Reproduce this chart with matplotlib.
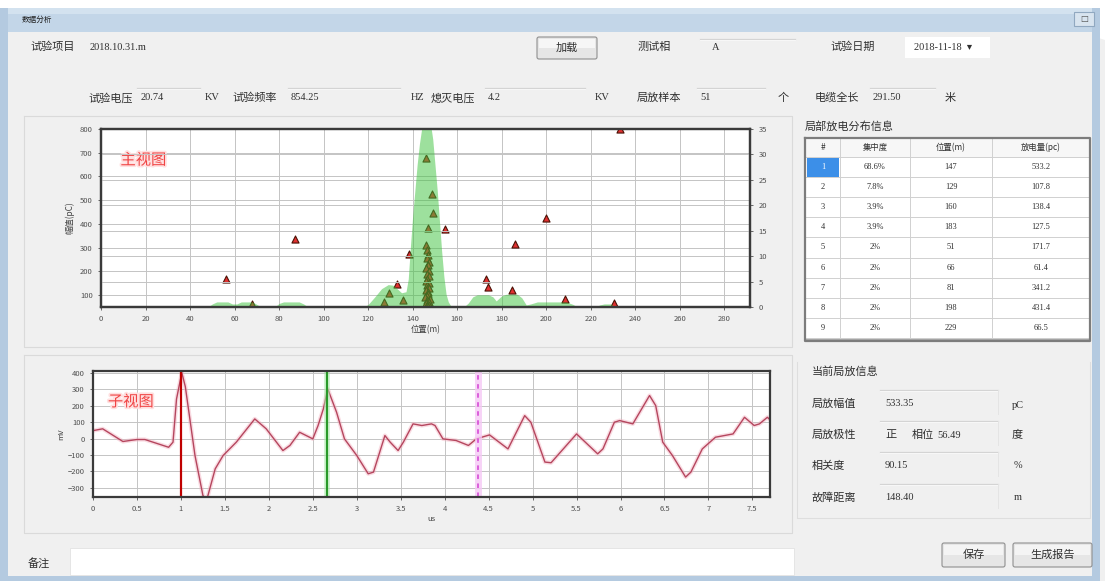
import matplotlib
matplotlib.use('Agg')
import matplotlib.pyplot as plt
from matplotlib.patches import Rectangle, FancyBboxPatch, Polygon
import matplotlib.patheffects as pe

plt.rcParams['font.family'] = ['Noto Sans CJK SC', 'DejaVu Sans']

# ---------------- data ----------------
# header fields
project_name = "2018.10.31.m"
test_phase = "A"
test_date = "2018-11-18"
test_voltage = "20.74"
test_freq = "854.25"
extinct_voltage = "4.2"
pd_samples = "51"
cable_length = 291.50

# discharge points: position (m) and amplitude (pC)
pd_pos = [56.1, 67.7, 87.1, 127.0, 129.3, 132.8, 135.8, 138.3, 154.5,
          145.8, 148.5, 148.9, 146.7,
          146.0, 146.5, 147.0, 146.2, 147.3, 146.8, 145.8, 147.5, 146.4, 147.1,
          146.6, 145.9, 147.2, 146.3, 146.9, 147.4, 146.1, 146.7, 147.0, 146.5,
          145.7, 147.6, 146.2, 146.8, 147.3, 146.0, 146.6, 147.1, 146.4, 147.8,
          146.9,
          172.9, 174.0, 184.4, 185.9, 199.7, 208.3, 230.5, 233.0]
pd_amp = [167, 62, 338, 72, 108, 146, 80, 273, 379,
          677, 528, 444, 383,
          310, 290, 270, 255, 240, 228, 215, 200, 190, 180,
          170, 160, 150, 142, 135, 128, 120, 112, 105, 98,
          92, 85, 80, 75, 70, 65, 60, 57, 55, 52,
          50,
          167, 133, 122, 316, 426, 83, 66, 800]

# discharge count distribution along the cable
dist_pos = [0, 48, 50, 52, 57, 59, 61, 63, 68, 70, 72, 78, 80, 82, 89, 91, 93,
            118, 120, 123, 126, 129, 131, 133, 135, 137, 138, 139, 140, 141,
            142, 143, 144, 145, 146, 147, 148, 149, 150, 151, 152, 153, 154,
            155, 156, 157, 159, 163, 165, 167, 169, 174, 176, 177.5, 178.5, 180,
            182, 187, 189, 191, 193, 196, 209, 212, 214, 222, 224, 226, 229,
            231, 291.5]
dist_cnt = [0, 0, 0.6, 1.0, 1.0, 0.6, 0.6, 1.0, 1.0, 0.5, 0, 0, 0.7, 1.0, 1.0,
            0.6, 0, 0, 0.5, 2.0, 3.6, 4.4, 4.3, 3.6, 2.8, 3.0, 5.5, 12, 18, 23,
            28, 32, 35, 37, 38, 37.5, 36, 33, 28, 23, 17, 11, 6, 2.5, 1.0,
            0.3, 0, 0, 0.8, 2.0, 2.4, 2.4, 2.0, 1.2, 1.6, 2.2, 2.5, 2.5, 1.8,
            0.4, 0.6, 1.0, 1.0, 0.5, 0, 0, 0.4, 0.6, 0.6, 0, 0]

main_xticks = list(range(0, 300, 20))
main_yticks = [100, 200, 300, 400, 500, 600, 700, 800]
count_ticks = [0, 5, 10, 15, 20, 25, 30, 35]

# waveform of the selected discharge (us, mV)
wave_t = [0.00, 0.11, 0.34, 0.50, 0.59, 0.86, 0.91, 0.95, 1.01, 1.05, 1.16,
          1.25, 1.29, 1.39, 1.48, 1.63, 1.84, 1.97, 2.16, 2.24, 2.35, 2.50,
          2.56, 2.62, 2.67, 2.77, 2.86, 3.00, 3.13, 3.19, 3.32, 3.38, 3.47,
          3.53, 3.64, 3.74, 3.85, 3.89, 3.98, 4.13, 4.27, 4.36, 4.51, 4.72,
          4.91, 4.98, 5.14, 5.21, 5.50, 5.74, 5.80, 5.93, 5.99, 6.14, 6.33,
          6.40, 6.48, 6.59, 6.74, 6.80, 6.93, 7.08, 7.28, 7.41, 7.52, 7.58,
          7.67, 7.71]
wave_v = [48, 59, -18, -6, -6, -53, -22, 240, 400, 315, -103,
          -345, -380, -184, -103, -22, 119, 59, -73, -42, 38, -2,
          79, 180, 301, 160, -2, -103, -214, -204, 18, -22, -73,
          -22, 89, 79, 89, 79, -2, -12, -42, -2, 22, -63,
          139, 99, -143, -147, 28, -93, -63, 99, 109, 89, 261,
          200, -22, -103, -234, -204, -63, 8, 28, 129, 79, 89,
          129, 109]
cursor_start = 1.0
cursor_peak = 2.66
cursor_mark = 4.38
sub_xticks = [0, 0.5, 1, 1.5, 2, 2.5, 3, 3.5, 4, 4.5, 5, 5.5, 6, 6.5, 7, 7.5]
sub_yticks = [-300, -200, -100, 0, 100, 200, 300, 400]

# distribution table
tbl_header = ["#", "集中度", "位置(m)", "放电量(pc)"]
tbl_idx = ["1", "2", "3", "4", "5", "6", "7", "8", "9"]
tbl_ratio = ["68.6%", "7.8%", "3.9%", "3.9%", "2%", "2%", "2%", "2%", "2%"]
tbl_pos = ["147", "129", "160", "183", "51", "66", "81", "198", "229"]
tbl_q = ["533.2", "107.8", "138.4", "127.5", "171.7", "61.4", "341.2", "431.4", "66.5"]

# current discharge info
cur_amp = "533.35"
cur_polarity = "正"
cur_phase = "56.49"
cur_corr = "90.15"
cur_dist = "148.40"

# ---------------- figure ----------------
W, H = 1105, 581
fig = plt.figure(figsize=(W / 100, H / 100), dpi=100)
fig.patch.set_facecolor('#f0f0f0')
ui = fig.add_axes([0, 0, 1, 1], zorder=0)
ui.set_xlim(0, W)
ui.set_ylim(H, 0)
ui.axis('off')

CJK = ['Noto Sans CJK SC', 'DejaVu Sans']
NUM = ['Liberation Serif', 'Noto Sans CJK SC']
TXT = '#303030'

# window frame
ui.add_patch(Rectangle((0, 0), W, 8, color='white', lw=0))
ui.add_patch(Polygon([(980, 0), (W, 0), (W, 40)], closed=True, color='white', lw=0))
ui.add_patch(Rectangle((0, 8), 1098, 24, color='#c3d6e8', lw=0))
ui.add_patch(Rectangle((0, 8), 1098, 6, color='#d3e2ef', lw=0))
ui.add_patch(Rectangle((0, 8), 8, 573, color='#b4cae0', lw=0))
ui.add_patch(Rectangle((0, 576), 1098, 5, color='#b4cae0', lw=0))
ui.add_patch(Rectangle((1092, 8), 8, 573, color='#b4cae0', lw=0))
ui.add_patch(Rectangle((8, 32), 1084, 544, color='#f0f0f0', lw=0))
ui.text(22, 20, "数据分析", fontsize=5.5, color='#202020', va='center', family=CJK)
ui.add_patch(Rectangle((1074, 12), 20, 14, fc='#d8e4ef', ec='#90a8c0', lw=0.8))
ui.text(1084, 19, "□", fontsize=6, color='#505050', ha='center', va='center', family=['DejaVu Sans'])


def label(x, y, s, size=8, fam=CJK, color=TXT, **kw):
    ui.text(x, y, s, fontsize=size, color=color, va='center', family=fam, **kw)


def field_line(x0, x1, y):
    ui.plot([x0, x1], [y, y], color='#d4d4d4', lw=0.9)
    ui.plot([x0, x1], [y + 1, y + 1], color='#fafafa', lw=0.6)


# header row 1
label(30, 47, "试验项目")
label(90, 47, project_name, size=7.5, fam=NUM)
ui.add_patch(FancyBboxPatch((537, 37), 60, 22, boxstyle='round,pad=0,rounding_size=2',
                            fc='#e6e6e6', ec='#8f8f8f', lw=0.8))
ui.add_patch(Rectangle((539, 39), 56, 9, color='#f6f6f6', lw=0))
label(567, 48, "加载", ha='center')
label(638, 47, "测试相")
field_line(700, 795, 39)
label(712, 47, test_phase, size=7.5, fam=NUM)
label(830, 47, "试验日期")
ui.add_patch(Rectangle((905, 37), 85, 21, color='white', lw=0))
label(914, 47, test_date + "  ▾", size=7.5, fam=['Liberation Serif', 'DejaVu Sans'])

# header row 2
ry = 98
label(88, ry, "试验电压")
field_line(137, 200, 88)
label(141, ry, test_voltage, size=7.5, fam=NUM)
label(205, ry, "KV", size=7.5, fam=NUM)
label(232, ry, "试验频率")
field_line(288, 400, 88)
label(291, ry, test_freq, size=7.5, fam=NUM)
label(411, ry, "HZ", size=7.5, fam=NUM)
label(431, ry, "熄灭电压")
field_line(485, 585, 88)
label(488, ry, extinct_voltage, size=7.5, fam=NUM)
label(595, ry, "KV", size=7.5, fam=NUM)
label(637, ry, "局放样本")
field_line(697, 765, 88)
label(700, ry, pd_samples, size=7.5, fam=NUM)
label(778, ry, "个")
label(815, ry, "电缆全长")
field_line(870, 935, 88)
label(873, ry, f"{cable_length:.2f}", size=7.5, fam=NUM)
label(945, ry, "米")

# panels
for (x0, y0, x1, y1) in [(24, 116, 792, 347), (24, 355, 792, 533)]:
    ui.plot([x0, x1, x1, x0, x0], [y0, y0, y1, y1, y0], color='#dadada', lw=0.8)

# remark row
label(28, 563, "备注")
ui.add_patch(Rectangle((70, 548), 724, 27, fc='white', ec='#e2e2e2', lw=0.6))

# ---------------- distribution table ----------------
label(805, 126, "局部放电分布信息", size=8)
tx0, tx1 = 805, 1090
col_edges = [805, 840, 910, 992, 1090]
col_centers = [823, 875, 951, 1041]
hdr_top, hdr_bot = 138, 157
row_h = 20.1
ui.add_patch(Rectangle((tx0, hdr_top), tx1 - tx0, 204, fc='white', ec='none'))
ui.add_patch(Rectangle((tx0, hdr_top), tx1 - tx0, hdr_bot - hdr_top, fc='#f7f7f7', ec='none'))
for i in range(len(tbl_idx) + 1):
    yy = hdr_bot + i * row_h
    ui.plot([tx0, tx1], [yy, yy], color='#d0d0d0', lw=0.7)
for xe in col_edges[1:-1]:
    ui.plot([xe, xe], [hdr_top, hdr_bot + 9 * row_h], color='#d0d0d0', lw=0.7)
ui.add_patch(Rectangle((807, hdr_bot + 1), 32, row_h - 1.5, color='#3c8fe8', lw=0))
for c, h in zip(col_centers, tbl_header):
    label(c, (hdr_top + hdr_bot) / 2, h, size=6, ha='center')
for i in range(len(tbl_idx)):
    yc = hdr_bot + (i + 0.5) * row_h
    label(col_centers[0], yc, tbl_idx[i], size=6, fam=NUM, ha='center',
          color='white' if i == 0 else TXT)
    label(col_centers[1], yc, tbl_ratio[i], size=6, fam=NUM, ha='center')
    label(col_centers[2], yc, tbl_pos[i], size=6, fam=NUM, ha='center')
    label(col_centers[3], yc, tbl_q[i], size=6, fam=NUM, ha='center')
tbl_bottom = hdr_bot + 9 * row_h + 3
ui.plot([tx0, tx1, tx1, tx0, tx0], [hdr_top, hdr_top, tbl_bottom, tbl_bottom, hdr_top],
        color='#7c7c7c', lw=1.6)
ui.add_patch(Rectangle((tx0, tbl_bottom - 3), tx1 - tx0, 3, color='#a8a8a8', lw=0))

# ---------------- current discharge info ----------------
label(812, 372, "当前局放信息")
ui.plot([797, 797, 1090, 1090], [362, 518, 518, 362], color='#dedede', lw=0.8)
for yy in (390, 421, 452, 484):
    field_line(880, 998, yy)
    ui.plot([998, 998], [yy, yy + 24], color='#e4e4e4', lw=0.7)
label(812, 404, "局放幅值")
label(885, 404, cur_amp, size=7.5, fam=NUM)
label(1012, 405, "pC", size=7.5, fam=NUM)
label(812, 435, "局放极性")
label(885, 435, cur_polarity)
label(912, 435, "相位")
label(937, 435, cur_phase, size=7.5, fam=NUM)
label(1012, 435, "度")
label(812, 466, "相关度")
label(885, 466, cur_corr, size=7.5, fam=NUM)
label(1014, 466, "%", size=7.5, fam=NUM)
label(812, 497, "故障距离")
label(885, 497, cur_dist, size=7.5, fam=NUM)
label(1014, 497, "m", size=7.5, fam=NUM)
for (bx, bw, s) in [(942, 63, "保存"), (1013, 79, "生成报告")]:
    ui.add_patch(FancyBboxPatch((bx, 543), bw, 24, boxstyle='round,pad=0,rounding_size=2',
                                fc='#e6e6e6', ec='#8f8f8f', lw=0.8))
    ui.add_patch(Rectangle((bx + 2, 545), bw - 4, 10, color='#f4f4f4', lw=0))
    label(bx + bw / 2, 555, s, ha='center')

# ---------------- main view ----------------
def frac(x0, y0, x1, y1):
    return [x0 / W, 1 - y1 / H, (x1 - x0) / W, (y1 - y0) / H]


ax = fig.add_axes(frac(101, 129, 750, 307), zorder=2)
ax.set_facecolor('white')
ax.scatter(pd_pos, pd_amp, marker='^', s=26, c='#e03030', edgecolors='#4a1206',
           linewidths=0.8, zorder=3)
ax.set_xlim(0, cable_length)
ax.set_ylim(50, 800)
ax.set_xticks(main_xticks)
ax.set_yticks(main_yticks)
ax.grid(True, color='#c4c4c4', lw=0.7)
ax.set_axisbelow(True)
ax.set_xlabel("位置(m)", fontsize=6, color='#404040', labelpad=1, x=0.5)
ax.set_ylabel("幅值(pC)", fontsize=6, color='#404040', labelpad=4)
ax.text(0.03, 0.80, "主视图", transform=ax.transAxes, fontsize=11, color='#f04545',
        path_effects=[pe.withStroke(linewidth=2.5, foreground='#ffe0e0')], zorder=6)

ax2 = ax.twinx()
ax2.fill_between(dist_pos, dist_cnt, color='#3cc23c', alpha=0.5, lw=0)
ax2.set_ylim(0, 35)
ax2.set_yticks(count_ticks)
ax2.yaxis.grid(True, color='#c4c4c4', lw=0.7)
ax2.set_axisbelow(True)

for a in (ax, ax2):
    for sp in a.spines.values():
        sp.set_color('#3a3a3a')
        sp.set_linewidth(1.6)
    a.tick_params(labelsize=5.5, colors='#505050', length=2, width=0.6, pad=4)

# ---------------- sub view ----------------
ax3 = fig.add_axes(frac(93, 371, 770, 497), zorder=2)
ax3.set_facecolor('white')
ax3.plot(wave_t, wave_v, color='#f2b0bf', lw=3.0, alpha=0.45, solid_joinstyle='round')
ax3.plot(wave_t, wave_v, color='#b5465e', lw=1.0, solid_joinstyle='round')
ax3.axvline(cursor_start, color='#c00000', lw=1.6)
ax3.axvline(cursor_peak, color='#a6e6a6', lw=4, alpha=0.6)
ax3.axvline(cursor_peak, color='#2a9a2a', lw=1.5)
ax3.axvline(cursor_mark, color='#f6c8f6', lw=5, alpha=0.8)
ax3.axvline(cursor_mark, color='#d855d8', lw=1.3, ls=(0, (2.5, 2.5)))
ax3.set_xlim(0, 7.7)
ax3.set_ylim(-355, 410)
ax3.set_xticks(sub_xticks)
ax3.set_xticklabels([f"{v:g}" for v in sub_xticks])
ax3.set_yticks(sub_yticks)
ax3.grid(True, color='#c4c4c4', lw=0.7)
ax3.set_axisbelow(True)
ax3.set_xlabel("us", fontsize=5.5, color='#404040', labelpad=1)
ax3.set_ylabel("mV", fontsize=5.5, color='#404040', labelpad=2)
ax3.text(0.022, 0.72, "子视图", transform=ax3.transAxes, fontsize=11, color='#f04545',
         path_effects=[pe.withStroke(linewidth=2.5, foreground='#ffe0e0')], zorder=6)
for sp in ax3.spines.values():
    sp.set_color('#3a3a3a')
    sp.set_linewidth(1.6)
ax3.tick_params(labelsize=5.5, colors='#505050', length=2, width=0.6, pad=4)

fig.savefig('out.png', dpi=100, facecolor=fig.get_facecolor())
